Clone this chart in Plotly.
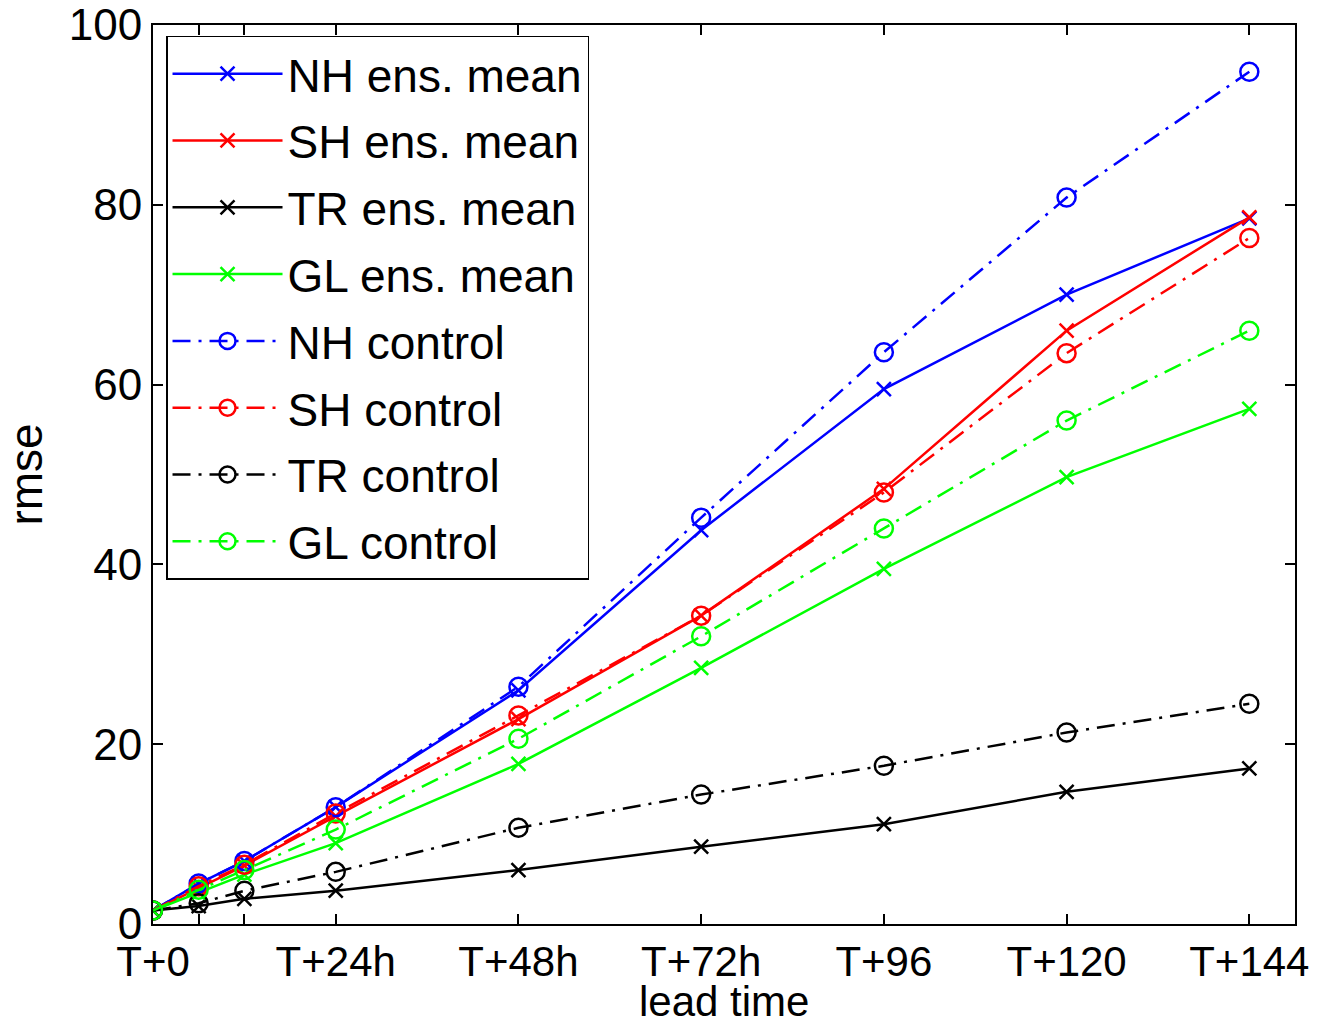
import plotly.graph_objects as go

lead_hours = [0, 6, 12, 24, 48, 72, 96, 120, 144]
tick_vals = [0, 6, 12, 24, 48, 72, 96, 120, 144]
tick_text = ["T+0", "", "", "T+24h", "T+48h", "T+72h", "T+96", "T+120", "T+144"]

nh_ens = [1.5, 4.5, 7.0, 13.0, 26.0, 43.8, 59.5, 70.0, 78.5]
sh_ens = [1.5, 4.0, 6.5, 12.0, 22.8, 34.3, 48.4, 66.0, 78.6]
tr_ens = [1.5, 2.0, 2.8, 3.7, 6.0, 8.6, 11.1, 14.7, 17.3]
gl_ens = [1.5, 3.5, 5.5, 9.0, 17.8, 28.5, 39.5, 49.7, 57.3]
nh_ctl = [1.5, 4.5, 7.0, 13.0, 26.4, 45.2, 63.6, 80.8, 94.8]
sh_ctl = [1.5, 4.2, 6.6, 12.3, 23.2, 34.3, 48.0, 63.5, 76.3]
tr_ctl = [1.5, 2.3, 3.7, 5.8, 10.7, 14.4, 17.6, 21.3, 24.5]
gl_ctl = [1.5, 3.8, 6.0, 10.5, 20.6, 32.0, 44.0, 56.0, 66.0]

series = [
    ("NH ens. mean", nh_ens, "#0000ff", "solid", "x-thin-open"),
    ("SH ens. mean", sh_ens, "#ff0000", "solid", "x-thin-open"),
    ("TR ens. mean", tr_ens, "#000000", "solid", "x-thin-open"),
    ("GL ens. mean", gl_ens, "#00ff00", "solid", "x-thin-open"),
    ("NH control", nh_ctl, "#0000ff", "18px,8px,3px,8px", "circle-open"),
    ("SH control", sh_ctl, "#ff0000", "18px,8px,3px,8px", "circle-open"),
    ("TR control", tr_ctl, "#000000", "18px,8px,3px,8px", "circle-open"),
    ("GL control", gl_ctl, "#00ff00", "18px,8px,3px,8px", "circle-open"),
]

fig = go.Figure()
for i, (name, vals, color, dash, sym) in enumerate(series):
    fig.add_trace(go.Scatter(
        x=lead_hours, y=vals, name=name, mode="lines+markers",
        line=dict(color=color, width=2.5, dash=dash),
        marker=dict(symbol=sym, size=14 if sym.startswith("x") else 18,
                    color=color, line=dict(color=color, width=2.5)),
        legendgroup=f"g{i}",
    ))

font_family = "Liberation Sans, Arial, sans-serif"
fig.update_layout(
    width=1334, height=1027,
    margin=dict(l=153, r=39, t=25, b=103, autoexpand=False),
    paper_bgcolor="white", plot_bgcolor="white",
    font=dict(family=font_family, size=44, color="black"),
    showlegend=True,
    legend=dict(
        x=0.0114, y=0.988, xanchor="left", yanchor="top",
        bgcolor="white", bordercolor="black", borderwidth=1.5,
        font=dict(size=46, color="black"),
        tracegroupgap=4, itemwidth=110,
    ),
    xaxis=dict(
        range=[0, 150], tickmode="array", tickvals=tick_vals, ticktext=tick_text,
        ticks="inside", ticklen=10, tickwidth=1.5, tickcolor="black",
        showline=True, linecolor="black", linewidth=2, mirror="ticks",
        showgrid=False, zeroline=False, automargin=False,
        tickfont=dict(size=42),
    ),
    yaxis=dict(
        range=[0, 100], tickmode="array", tickvals=[0, 20, 40, 60, 80, 100],
        ticks="inside", ticklen=10, tickwidth=1.5, tickcolor="black",
        showline=True, linecolor="black", linewidth=2, mirror="ticks",
        showgrid=False, zeroline=False, automargin=False,
        title=dict(text="rmse", font=dict(size=46), standoff=25),
        tickfont=dict(size=44),
    ),
    annotations=[dict(
        text="lead time", xref="paper", yref="paper", x=0.5, y=-0.1135,
        xanchor="center", yanchor="bottom", showarrow=False, borderpad=0,
        font=dict(size=42, color="black"),
    )],
)

fig.write_html("out.html")
